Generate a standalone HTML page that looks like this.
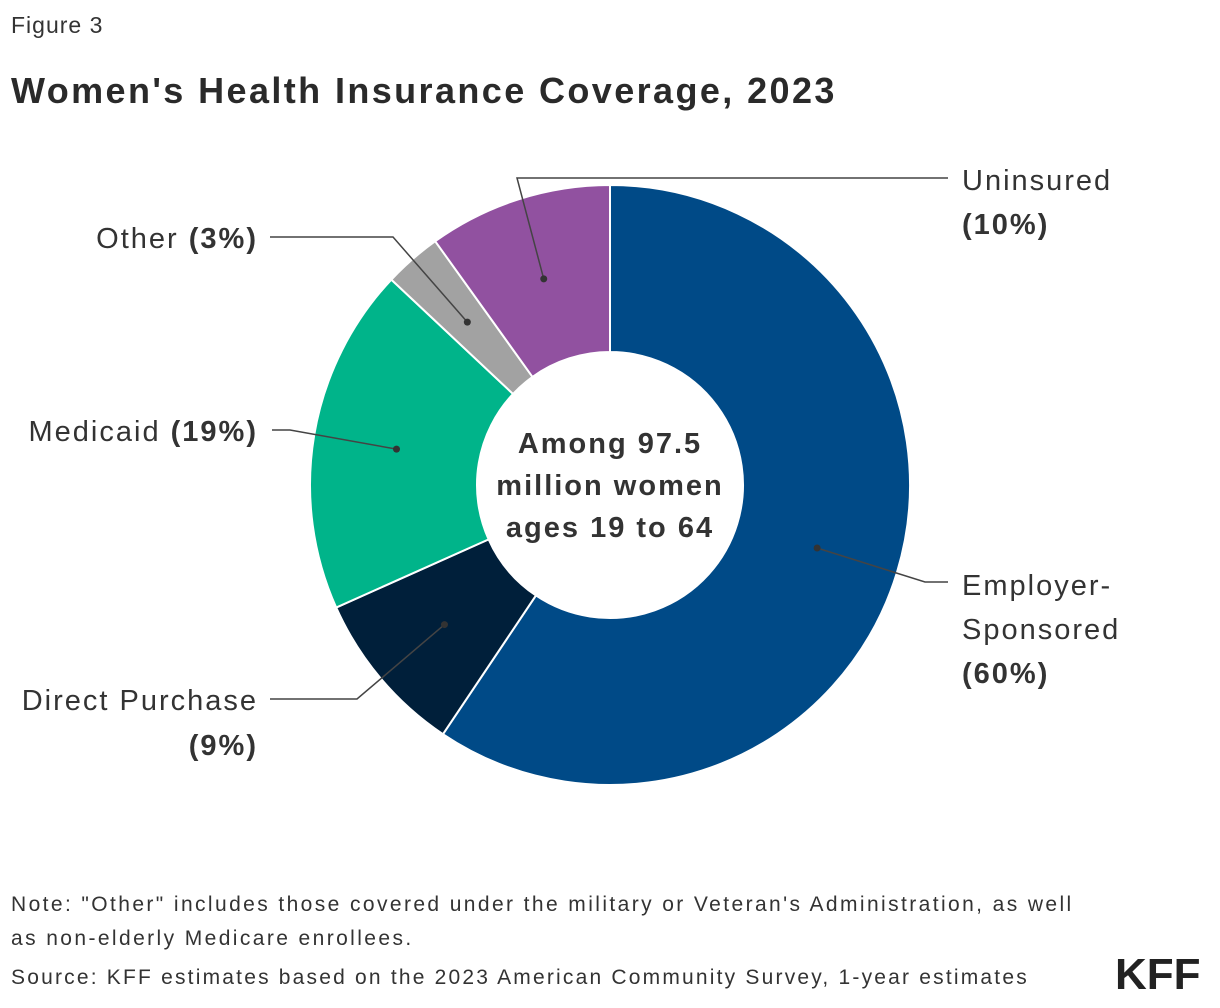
<!DOCTYPE html>
<html><head><meta charset="utf-8"><style>
body{margin:0;width:1220px;height:1008px;background:#fff;font-family:"Liberation Sans",sans-serif;color:#222;position:relative;overflow:hidden}
.t{position:absolute;white-space:nowrap}
</style></head><body>
<div class="t" style="left:11px;top:12px;font-size:23px;color:#333;letter-spacing:1px">Figure 3</div>
<div class="t" style="left:11px;top:70px;font-size:36px;font-weight:bold;color:#2a2a2a;letter-spacing:2.4px">Women's Health Insurance Coverage, 2023</div>
<svg id="chart" width="1220" height="1008" style="position:absolute;left:0;top:0">
<g id="slices"></g><g id="leaders" stroke="#444" stroke-width="1.5" fill="none"></g><g id="dots" fill="#333"></g>
<text x="610" y="453" text-anchor="middle" font-size="29" font-weight="bold" fill="#333" letter-spacing="2"><tspan x="610">Among 97.5</tspan><tspan x="610" dy="42">million women</tspan><tspan x="610" dy="42">ages 19 to 64</tspan></text>
<g font-size="29" fill="#333" letter-spacing="2">
<text x="962" y="190">Uninsured</text>
<text x="962" y="234" font-weight="bold">(10%)</text>
<text x="258" y="248" text-anchor="end">Other <tspan font-weight="bold">(3%)</tspan></text>
<text x="258" y="441" text-anchor="end">Medicaid <tspan font-weight="bold">(19%)</tspan></text>
<text x="258" y="710" text-anchor="end">Direct Purchase</text>
<text x="258" y="755" text-anchor="end" font-weight="bold">(9%)</text>
<text x="962" y="595">Employer-</text>
<text x="962" y="639">Sponsored</text>
<text x="962" y="683" font-weight="bold">(60%)</text>
</g>
</svg>
<div class="t" style="left:11px;top:888px;font-size:21px;color:#333;line-height:34px;letter-spacing:2.4px">Note: "Other" includes those covered under the military or Veteran's Administration, as well<br>as non-elderly Medicare enrollees.</div>
<div class="t" style="left:11px;top:966px;font-size:21px;color:#333;letter-spacing:2.2px">Source: KFF estimates based on the 2023 American Community Survey, 1-year estimates</div>
<div class="t" style="left:1115px;top:950px;font-size:44px;font-weight:bold;color:#222;letter-spacing:0px">KFF</div>
<script>
const categories=["Employer-Sponsored","Direct Purchase","Medicaid","Other","Uninsured"];
const values=[59.4,8.9,18.7,3.1,9.9];
const colors=["#004a87","#001f3a","#00b48a","#a2a2a2","#9151a0"];
const leaderPts=[[[925,582],[948,582]],[[357,699],[270,699]],[[290,430],[272,430]],[[393,237],[270,237]],[[517,178],[948,178]]];
const cx=610,cy=485,R=300,r=133,ns="http://www.w3.org/2000/svg";
const total=values.reduce((a,b)=>a+b,0);
function pt(a,rad){return [cx+rad*Math.sin(a),cy-rad*Math.cos(a)];}
let acc=0;
values.forEach((v,i)=>{
 const a0=acc/total*2*Math.PI;acc+=v;const a1=acc/total*2*Math.PI;
 const lg=a1-a0>Math.PI?1:0;
 const p1=pt(a0,R),p2=pt(a1,R),p3=pt(a1,r),p4=pt(a0,r);
 const p=document.createElementNS(ns,"path");
 p.setAttribute("d",`M${p1}A${R},${R} 0 ${lg} 1 ${p2}L${p3}A${r},${r} 0 ${lg} 0 ${p4}Z`);
 p.setAttribute("fill",colors[i]);p.setAttribute("stroke","#fff");p.setAttribute("stroke-width","2");
 
 
 document.getElementById("slices").appendChild(p);
 const d=pt((a0+a1)/2,(R+r)/2);
 const c=document.createElementNS(ns,"circle");c.setAttribute("cx",d[0]);c.setAttribute("cy",d[1]);c.setAttribute("r",3.5);
 
 
 document.getElementById("dots").appendChild(c);
 const l=document.createElementNS(ns,"polyline");
 l.setAttribute("points",[d].concat(leaderPts[i]).map(q=>q.join(",")).join(" "));
 
 
 document.getElementById("leaders").appendChild(l);
});
</script>
</body></html>
